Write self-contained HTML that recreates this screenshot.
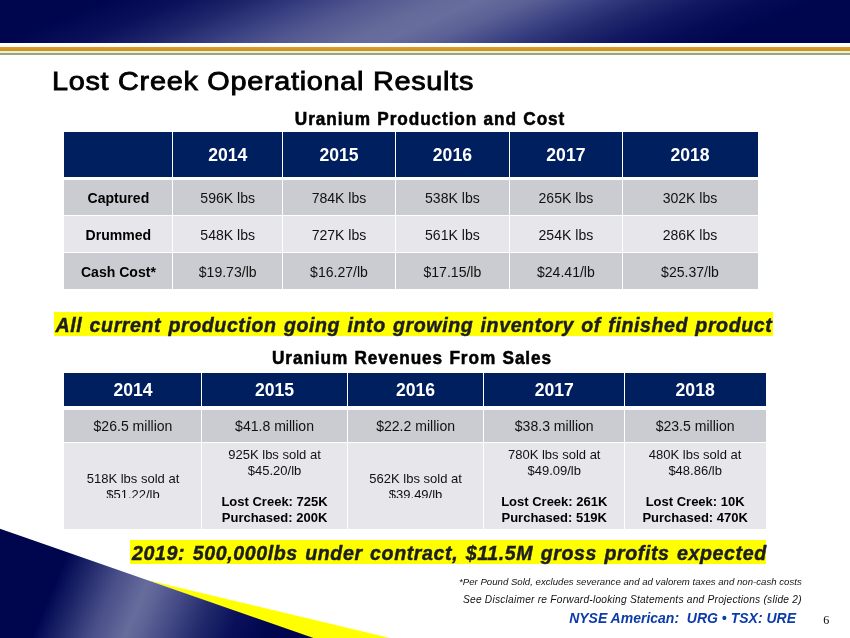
<!DOCTYPE html>
<html>
<head>
<meta charset="utf-8">
<style>
html,body{margin:0;padding:0;}
body{width:850px;height:638px;position:relative;overflow:hidden;background:#fff;font-family:"Liberation Sans",sans-serif;color:#000;}
.abs{position:absolute;}
#topband{left:0;top:0;width:850px;height:42.6px;background:linear-gradient(157deg,#00064e 0%,#00064e 11%,#0a115a 19%,#1e256a 26%,#3a4182 33%,#545a91 40%,#646a99 46.5%,#676d9c 50.5%,#5a6094 56%,#3e4585 62%,#232a6e 68.5%,#111861 74.5%,#050c55 80.5%,#00064e 86%,#00064e 100%);}
#gold{left:0;top:46.6px;width:850px;height:4.6px;background:linear-gradient(#ec9a1c,#b8962f);}
#cream{left:0;top:51.2px;width:850px;height:1.8px;background:#f3efcf;}
#sage{left:0;top:53px;width:850px;height:2px;background:#98a584;}
#title{left:52px;top:63.6px;font-size:26.2px;line-height:34px;letter-spacing:0.66px;white-space:nowrap;-webkit-text-stroke:0.85px #000;transform-origin:0 0;transform:scaleX(1.10);}
.sub{font-weight:bold;font-size:18.5px;line-height:20px;white-space:nowrap;text-align:center;letter-spacing:0.97px;word-spacing:0.8px;transform:scaleX(0.93);-webkit-text-stroke:0.55px #000;}
.r{position:absolute;}
.r.h{background:#001f5f;}
.r.a{background:#cbccd1;}
.r.b{background:#e6e6eb;}
.sep{position:absolute;background:#fff;}
.c{position:absolute;box-sizing:border-box;padding-top:0.6px;display:flex;align-items:center;justify-content:center;text-align:center;white-space:nowrap;font-size:14.05px;color:#111;}
.c.t1h,.c.t2h{color:#fff;font-weight:bold;font-size:17.6px;letter-spacing:0px;padding-top:2.6px;}
.c.t2h{padding-top:1.4px;}
.c.lab{font-weight:bold;color:#000;}
.c.t2b{font-size:13px;padding-top:2px;}
.clip{position:absolute;background:#e6e6eb;height:2.6px;top:498.4px;}
.c.t2b>div{display:flex;flex-direction:column;align-items:center;}
.l1{display:block;height:16.4px;line-height:16.4px;}
.bl{display:block;height:14.4px;}
.bd{font-weight:bold;color:#000;}
.hl{background:#ffff00;font-weight:bold;font-style:italic;white-space:nowrap;color:#1c1e24;-webkit-text-stroke:0.45px #1c1e24;}
#tri{left:0;top:520px;}
.fn{font-style:italic;white-space:nowrap;color:#111;}
</style>
</head>
<body>
<div id="wrap" style="position:absolute;left:0;top:0;width:850px;height:638px;will-change:transform;">
<div id="topband" class="abs"></div>
<div id="gold" class="abs"></div>
<div id="cream" class="abs"></div>
<div id="sage" class="abs"></div>

<div id="title" class="abs">Lost Creek Operational Results</div>
<div class="abs sub" style="left:229.5px;top:109px;width:400px;">Uranium Production and Cost</div>

<div class="r h" style="left:64px;top:132.2px;width:693.6px;height:45.0px;"></div>
<div class="r a" style="left:64px;top:180.1px;width:693.6px;height:35.1px;"></div>
<div class="r b" style="left:64px;top:216.4px;width:693.6px;height:35.5px;"></div>
<div class="r a" style="left:64px;top:253.0px;width:693.6px;height:35.8px;"></div>
<div class="sep" style="left:172.15px;top:132.2px;width:1.3px;height:156.6px;"></div>
<div class="sep" style="left:281.95px;top:132.2px;width:1.3px;height:156.6px;"></div>
<div class="sep" style="left:394.75px;top:132.2px;width:1.3px;height:156.6px;"></div>
<div class="sep" style="left:508.75px;top:132.2px;width:1.3px;height:156.6px;"></div>
<div class="sep" style="left:621.75px;top:132.2px;width:1.3px;height:156.6px;"></div>
<div class="c t1h" style="left:172.8px;top:132.2px;width:109.8px;height:45.0px;"><div>2014</div></div>
<div class="c t1h" style="left:282.6px;top:132.2px;width:112.8px;height:45.0px;"><div>2015</div></div>
<div class="c t1h" style="left:395.4px;top:132.2px;width:114.0px;height:45.0px;"><div>2016</div></div>
<div class="c t1h" style="left:509.4px;top:132.2px;width:113.0px;height:45.0px;"><div>2017</div></div>
<div class="c t1h" style="left:622.4px;top:132.2px;width:135.2px;height:45.0px;"><div>2018</div></div>
<div class="c t1a lab" style="left:64px;top:180.1px;width:108.8px;height:35.1px;"><div>Captured</div></div>
<div class="c t1a" style="left:172.8px;top:180.1px;width:109.8px;height:35.1px;"><div>596K lbs</div></div>
<div class="c t1a" style="left:282.6px;top:180.1px;width:112.8px;height:35.1px;"><div>784K lbs</div></div>
<div class="c t1a" style="left:395.4px;top:180.1px;width:114.0px;height:35.1px;"><div>538K lbs</div></div>
<div class="c t1a" style="left:509.4px;top:180.1px;width:113.0px;height:35.1px;"><div>265K lbs</div></div>
<div class="c t1a" style="left:622.4px;top:180.1px;width:135.2px;height:35.1px;"><div>302K lbs</div></div>
<div class="c t1b lab" style="left:64px;top:216.4px;width:108.8px;height:35.5px;padding-top:2.2px;"><div>Drummed</div></div>
<div class="c t1b" style="left:172.8px;top:216.4px;width:109.8px;height:35.5px;padding-top:2.2px;"><div>548K lbs</div></div>
<div class="c t1b" style="left:282.6px;top:216.4px;width:112.8px;height:35.5px;padding-top:2.2px;"><div>727K lbs</div></div>
<div class="c t1b" style="left:395.4px;top:216.4px;width:114.0px;height:35.5px;padding-top:2.2px;"><div>561K lbs</div></div>
<div class="c t1b" style="left:509.4px;top:216.4px;width:113.0px;height:35.5px;padding-top:2.2px;"><div>254K lbs</div></div>
<div class="c t1b" style="left:622.4px;top:216.4px;width:135.2px;height:35.5px;padding-top:2.2px;"><div>286K lbs</div></div>
<div class="c t1a lab" style="left:64px;top:253.0px;width:108.8px;height:35.8px;padding-top:2.2px;"><div>Cash Cost*</div></div>
<div class="c t1a" style="left:172.8px;top:253.0px;width:109.8px;height:35.8px;padding-top:2.2px;"><div>$19.73/lb</div></div>
<div class="c t1a" style="left:282.6px;top:253.0px;width:112.8px;height:35.8px;padding-top:2.2px;"><div>$16.27/lb</div></div>
<div class="c t1a" style="left:395.4px;top:253.0px;width:114.0px;height:35.8px;padding-top:2.2px;"><div>$17.15/lb</div></div>
<div class="c t1a" style="left:509.4px;top:253.0px;width:113.0px;height:35.8px;padding-top:2.2px;"><div>$24.41/lb</div></div>
<div class="c t1a" style="left:622.4px;top:253.0px;width:135.2px;height:35.8px;padding-top:2.2px;"><div>$25.37/lb</div></div>
<div style="position:absolute;left:195px;width:68px;top:202.8px;height:1.2px;background:#cbccd1;"></div><div style="position:absolute;left:305px;width:68px;top:202.8px;height:1.2px;background:#cbccd1;"></div><div style="position:absolute;left:418px;width:68px;top:202.8px;height:1.2px;background:#cbccd1;"></div><div style="position:absolute;left:532px;width:68px;top:202.8px;height:1.2px;background:#cbccd1;"></div><div style="position:absolute;left:656px;width:68px;top:202.8px;height:1.2px;background:#cbccd1;"></div>

<div class="abs hl" style="left:54px;top:312.2px;width:718.9px;height:23.6px;line-height:27px;font-size:19.6px;letter-spacing:0.58px;word-spacing:1.3px;text-indent:1.5px;">All current production going into growing inventory of finished product</div>

<div class="abs sub" style="left:211.5px;top:348px;width:400px;">Uranium Revenues From Sales</div>

<div class="r h" style="left:64.3px;top:373.1px;width:701.3px;height:32.6px;"></div>
<div class="r a" style="left:64.3px;top:409.6px;width:701.3px;height:32.1px;"></div>
<div class="r b" style="left:64.3px;top:442.6px;width:701.3px;height:86.0px;"></div>
<div class="sep" style="left:201.05px;top:373.1px;width:1.3px;height:155.5px;"></div>
<div class="sep" style="left:346.75px;top:373.1px;width:1.3px;height:155.5px;"></div>
<div class="sep" style="left:483.15px;top:373.1px;width:1.3px;height:155.5px;"></div>
<div class="sep" style="left:624.05px;top:373.1px;width:1.3px;height:155.5px;"></div>
<div class="c t2h" style="left:64.3px;top:373.1px;width:137.4px;height:32.6px;"><div>2014</div></div>
<div class="c t2h" style="left:201.7px;top:373.1px;width:145.7px;height:32.6px;"><div>2015</div></div>
<div class="c t2h" style="left:347.4px;top:373.1px;width:136.4px;height:32.6px;"><div>2016</div></div>
<div class="c t2h" style="left:483.8px;top:373.1px;width:140.9px;height:32.6px;"><div>2017</div></div>
<div class="c t2h" style="left:624.7px;top:373.1px;width:140.9px;height:32.6px;"><div>2018</div></div>
<div class="c t2a" style="left:64.3px;top:409.6px;width:137.4px;height:32.1px;"><div>$26.5 million</div></div>
<div class="c t2a" style="left:201.7px;top:409.6px;width:145.7px;height:32.1px;"><div>$41.8 million</div></div>
<div class="c t2a" style="left:347.4px;top:409.6px;width:136.4px;height:32.1px;"><div>$22.2 million</div></div>
<div class="c t2a" style="left:483.8px;top:409.6px;width:140.9px;height:32.1px;"><div>$38.3 million</div></div>
<div class="c t2a" style="left:624.7px;top:409.6px;width:140.9px;height:32.1px;"><div>$23.5 million</div></div>
<div class="c t2b" style="left:64.3px;top:442.6px;width:137.4px;height:86.0px;padding-top:3.6px;"><div><span class="l1">518K lbs sold at</span><span class="l1">$51.22/lb</span></div></div>
<div class="c t2b" style="left:201.7px;top:442.6px;width:145.7px;height:86.0px;"><div><span class="l1">925K lbs sold at</span><span class="l1">$45.20/lb</span><span class="bl"></span><span class="l1 bd">Lost Creek: 725K</span><span class="l1 bd">Purchased: 200K</span></div></div>
<div class="c t2b" style="left:347.4px;top:442.6px;width:136.4px;height:86.0px;padding-top:3.6px;"><div><span class="l1">562K lbs sold at</span><span class="l1">$39.49/lb</span></div></div>
<div class="c t2b" style="left:483.8px;top:442.6px;width:140.9px;height:86.0px;"><div><span class="l1">780K lbs sold at</span><span class="l1">$49.09/lb</span><span class="bl"></span><span class="l1 bd">Lost Creek: 261K</span><span class="l1 bd">Purchased: 519K</span></div></div>
<div class="c t2b" style="left:624.7px;top:442.6px;width:140.9px;height:86.0px;"><div><span class="l1">480K lbs sold at</span><span class="l1">$48.86/lb</span><span class="bl"></span><span class="l1 bd">Lost Creek: 10K</span><span class="l1 bd">Purchased: 470K</span></div></div>

<div class="clip" style="left:100px;width:66px;"></div><div class="clip" style="left:383px;width:66px;"></div>
<svg id="tri" class="abs" width="850" height="118" viewBox="0 0 850 118">
<defs><linearGradient id="g1" gradientUnits="userSpaceOnUse" x1="45.8" y1="84.6" x2="243.6" y2="169.1"><stop offset="0" stop-color="#00064e"/><stop offset="0.02" stop-color="#050c55"/><stop offset="0.125" stop-color="#222a6c"/><stop offset="0.25" stop-color="#484e88"/><stop offset="0.353" stop-color="#5e6496"/><stop offset="0.395" stop-color="#666c9b"/><stop offset="0.451" stop-color="#5e6496"/><stop offset="0.558" stop-color="#444b86"/><stop offset="0.698" stop-color="#222a6c"/><stop offset="0.837" stop-color="#0a115a"/><stop offset="1" stop-color="#00064e"/></linearGradient></defs>
<polygon points="148,60.3 390,118 310,118" fill="#ffff00"/>
<polygon points="0,8.8 313.5,118 0,118" fill="url(#g1)"/>
</svg>

<div class="abs hl" style="left:129.8px;top:540.4px;width:636.3px;height:23.5px;line-height:27px;font-size:19.6px;letter-spacing:0.6px;word-spacing:1.4px;text-indent:2.3px;">2019: 500,000lbs under contract, $11.5M gross profits expected</div>

<div class="abs fn" style="right:48.2px;top:575.9px;font-size:9.6px;letter-spacing:0.02px;line-height:12px;">*Per Pound Sold, excludes severance and ad valorem taxes and non-cash costs</div>
<div class="abs fn" style="right:48.2px;top:592.7px;font-size:10.2px;letter-spacing:0.23px;line-height:13px;">See Disclaimer re Forward-looking Statements and Projections (slide 2)</div>
<div class="abs" style="right:54px;top:610.3px;font-size:14px;line-height:16px;font-weight:bold;font-style:italic;color:#0c3caa;white-space:nowrap;">NYSE American:&nbsp; URG • TSX: URE</div>
<div class="abs" style="left:823.2px;top:613.6px;font-family:'Liberation Serif',serif;font-size:12px;line-height:12px;">6</div>
</div>
</body>
</html>
